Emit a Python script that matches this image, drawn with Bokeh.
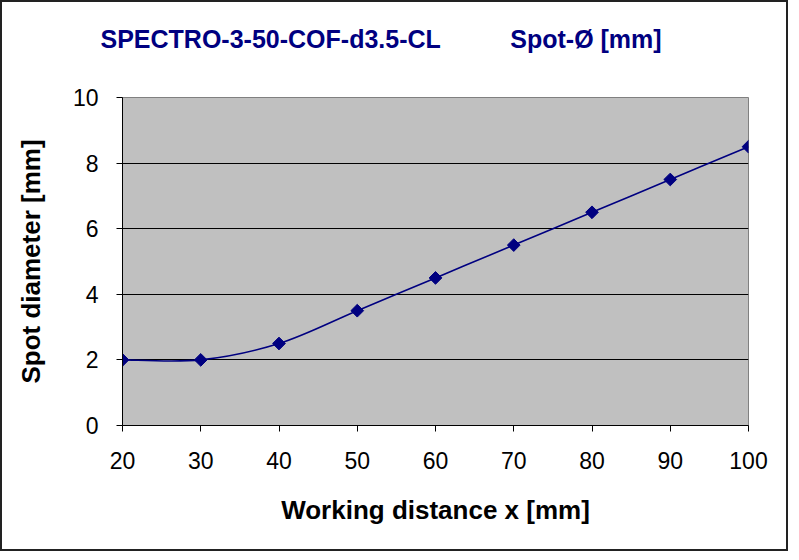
import math
from bokeh.plotting import figure
from bokeh.models import Range1d, FixedTicker
from bokeh.embed import file_html
from bokeh.resources import INLINE

# data
x_mm = [20, 30, 40, 50, 60, 70, 80, 90, 100]
spot_mm = [2.0, 2.0, 2.5, 3.5, 4.5, 5.5, 6.5, 7.5, 8.5]
x_ticks = [20, 30, 40, 50, 60, 70, 80, 90, 100]
y_ticks = [0, 2, 4, 6, 8, 10]
title_left = "SPECTRO-3-50-COF-d3.5-CL"
title_right = "Spot-Ø [mm]"
x_label = "Working distance x [mm]"
y_label = "Spot diameter [mm]"

NAVY = "#000080"
FONT = "Liberation Sans"

p = figure(width=788, height=551, output_backend="svg", toolbar_location=None,
           x_range=Range1d(20, 100), y_range=Range1d(0, 10),
           min_border_left=120, min_border_right=42, min_border_top=95, min_border_bottom=128)
p.styles = {"border": "2px solid #222", "box-sizing": "border-box"}
p.background_fill_color = "#C0C0C0"
p.border_fill_color = "white"
p.outline_line_color = "#808080"
p.outline_line_width = 1

# second (blank) line lifts the visible title line higher above the plot area
p.title.text = title_left + "\u00a0" * 10 + title_right + "\n\u00a0"
p.title.text_font = FONT
p.title.text_font_size = "25px"
p.title.text_font_style = "bold"
p.title.text_color = NAVY
p.title.align = "left"
p.title.offset = -22
p.title.standoff = 34

p.xgrid.visible = False
p.ygrid.grid_line_color = "black"
p.ygrid.grid_line_width = 1
p.ygrid.ticker = FixedTicker(ticks=y_ticks)

for ax, ticks in ((p.xaxis, x_ticks), (p.yaxis, y_ticks)):
    ax.ticker = FixedTicker(ticks=ticks)
    ax.axis_line_color = "black"
    ax.major_tick_line_color = "black"
    ax.major_tick_out = 6
    ax.major_tick_in = 0
    ax.minor_tick_line_color = None
    ax.major_label_text_font = FONT
    ax.major_label_text_font_size = "23px"
    ax.major_label_text_color = "black"
    ax.axis_label_text_font = FONT
    ax.axis_label_text_font_size = "26px"
    ax.axis_label_text_font_style = "bold"
    ax.axis_label_text_color = "black"

p.xaxis.axis_label = x_label
p.yaxis.axis_label = y_label
p.xaxis.major_label_standoff = 20
p.xaxis.axis_label_standoff = 23
p.yaxis.major_label_standoff = 18
p.yaxis.axis_label_standoff = 24

# smoothed line (Excel-style bezier through the points)
n = len(x_mm)
x0, y0, x1, y1, cx0, cy0, cx1, cy1 = [], [], [], [], [], [], [], []
for i in range(n - 1):
    ip = max(i - 1, 0)
    inn = min(i + 2, n - 1)
    x0.append(x_mm[i]); y0.append(spot_mm[i])
    x1.append(x_mm[i + 1]); y1.append(spot_mm[i + 1])
    cx0.append(x_mm[i] + (x_mm[i + 1] - x_mm[ip]) / 6)
    cy0.append(spot_mm[i] + (spot_mm[i + 1] - spot_mm[ip]) / 6)
    cx1.append(x_mm[i + 1] - (x_mm[inn] - x_mm[i]) / 6)
    cy1.append(spot_mm[i + 1] - (spot_mm[inn] - spot_mm[i]) / 6)
p.bezier(x0=x0, y0=y0, x1=x1, y1=y1, cx0=cx0, cy0=cy0, cx1=cx1, cy1=cy1,
         line_color=NAVY, line_width=1.6)
p.scatter(x_mm, spot_mm, marker="square", angle=math.pi / 4, size=9,
          fill_color=NAVY, line_color=NAVY)

open("out.html", "w").write(file_html(p, INLINE))
